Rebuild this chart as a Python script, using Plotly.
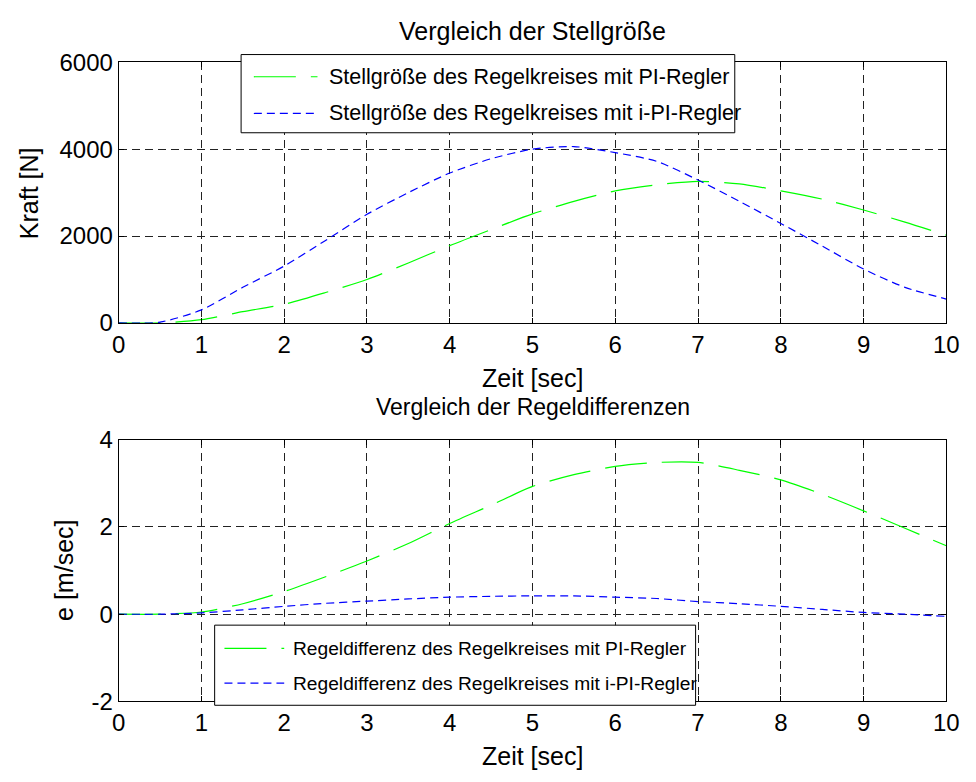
import plotly.graph_objects as go

# Zeitachse [sec]
zeit = [0, 0.5, 1, 1.5, 2, 2.5, 3, 3.5, 4, 4.5, 5, 5.5, 6, 6.5, 7, 7.5, 8, 8.5, 9, 9.5, 10]

# Stellgröße [N]
stell_pi = [0, 0, 75, 260, 430, 700, 1000, 1380, 1780, 2150, 2510, 2800, 3040, 3180,
            3260, 3200, 3040, 2850, 2600, 2320, 2020]
stell_ipi = [0, 20, 300, 820, 1310, 1900, 2500, 3000, 3450, 3780, 4000, 4060, 3920, 3720,
             3290, 2800, 2290, 1770, 1240, 820, 550]

# Regeldifferenz [m/sec]
diff_pi = [0, 0, 0.05, 0.24, 0.52, 0.86, 1.22, 1.62, 2.08, 2.5, 2.93, 3.2, 3.39, 3.48,
           3.48, 3.3, 3.08, 2.75, 2.37, 1.97, 1.57]
diff_ipi = [0, 0, 0.03, 0.1, 0.18, 0.25, 0.3, 0.35, 0.39, 0.41, 0.42, 0.42, 0.39, 0.36,
            0.29, 0.24, 0.18, 0.11, 0.04, 0.0, -0.05]

x_ticks = list(range(0, 11))
y1_ticks = [0, 2000, 4000, 6000]
y2_ticks = [-2, 0, 2, 4]
y2_labels = ["-2", "0", "2", "4"]

name_pi_1 = "Stellgröße des Regelkreises mit PI-Regler"
name_ipi_1 = "Stellgröße des Regelkreises mit i-PI-Regler"
name_pi_2 = "Regeldifferenz des Regelkreises mit PI-Regler"
name_ipi_2 = "Regeldifferenz des Regelkreises mit i-PI-Regler"

W, H = 976, 782
FONT = "Liberation Sans, Arial, sans-serif"
GREEN = "#00ff00"
BLUE = "#0000ff"
DASH_PI = "42px,15px"
DASH_IPI = "8px,5px"


def px(x):
    return x / W


def py(y):
    return 1 - y / H


fig = go.Figure()
fig.add_trace(go.Scatter(x=zeit, y=stell_pi, name=name_pi_1, mode="lines",
                         line=dict(color=GREEN, width=1.2, dash=DASH_PI, shape="spline",
                                   smoothing=0.7),
                         xaxis="x", yaxis="y", showlegend=False))
fig.add_trace(go.Scatter(x=zeit, y=stell_ipi, name=name_ipi_1, mode="lines",
                         line=dict(color=BLUE, width=1.2, dash=DASH_IPI, shape="spline",
                                   smoothing=0.7),
                         xaxis="x", yaxis="y", showlegend=False))
fig.add_trace(go.Scatter(x=zeit, y=diff_pi, name=name_pi_2, mode="lines",
                         line=dict(color=GREEN, width=1.2, dash=DASH_PI, shape="spline",
                                   smoothing=0.7),
                         xaxis="x2", yaxis="y2", showlegend=False))
fig.add_trace(go.Scatter(x=zeit, y=diff_ipi, name=name_ipi_2, mode="lines",
                         line=dict(color=BLUE, width=1.2, dash=DASH_IPI, shape="spline",
                                   smoothing=0.7),
                         xaxis="x2", yaxis="y2", showlegend=False))

axis_common = dict(
    showline=True, linecolor="black", linewidth=1, mirror="ticks",
    ticks="inside", ticklen=5, tickcolor="black", tickwidth=1,
    showgrid=True, gridcolor="#222222", gridwidth=1, griddash="8px,5px",
    zeroline=False, tickfont=dict(family=FONT, size=24, color="black"),
)

xdom = [px(114), px(959)]
fig.update_layout(
    width=W, height=H,
    margin=dict(l=0, r=0, t=0, b=0),
    paper_bgcolor="white", plot_bgcolor="white",
    font=dict(family=FONT, color="black"),
    xaxis=dict(domain=xdom, range=[0, 10], tickvals=x_ticks, anchor="y", **axis_common),
    yaxis=dict(domain=[py(320), py(50)], range=[0, 6000], tickvals=y1_ticks, anchor="x",
               **axis_common),
    xaxis2=dict(domain=xdom, range=[0, 10], tickvals=x_ticks, anchor="y2", **axis_common),
    yaxis2=dict(domain=[py(712), py(441)], range=[-2, 4], tickvals=y2_ticks,
                ticktext=y2_labels, anchor="x2", **axis_common),
)

# Titel und Achsenbeschriftungen
texts = [
    ("Vergleich der Stellgröße", 536.5, 18, 25, 0),
    ("Zeit [sec]", 536.5, 377, 25, 0),
    ("Vergleich der Regeldifferenzen", 536.5, 407, 23, 0),
    ("Zeit [sec]", 536.5, 769, 25, 0),
    ("Kraft [N]", 22, 186, 25, -90),
    ("e [m/sec]", 58, 576, 25, -90),
]
for txt, x, y, size, angle in texts:
    fig.add_annotation(text=txt, x=px(x), y=py(y), xref="paper", yref="paper",
                       xanchor="center", yanchor="middle", showarrow=False,
                       textangle=angle, font=dict(family=FONT, size=size, color="black"))

# Legenden als Kasten mit Linienmustern und Beschriftung
legends = [
    dict(box=(239, 42, 743, 123), line_x=(252, 317), text_x=327, rows=(65, 103),
         names=(name_pi_1, name_ipi_1), size=21.5),
    dict(box=(212, 633, 703, 716), line_x=(222, 283), text_x=290, rows=(657, 693),
         names=(name_pi_2, name_ipi_2), size=19.2),
]
for lg in legends:
    x0, y0, x1, y1 = lg["box"]
    fig.add_shape(type="rect", xref="paper", yref="paper",
                  x0=px(x0), x1=px(x1), y0=py(y1), y1=py(y0),
                  line=dict(color="black", width=1), fillcolor="white", layer="above")
    styles = [(GREEN, DASH_PI), (BLUE, DASH_IPI)]
    for (color, dash), row, name in zip(styles, lg["rows"], lg["names"]):
        fig.add_shape(type="line", xref="paper", yref="paper",
                      x0=px(lg["line_x"][0]), x1=px(lg["line_x"][1]), y0=py(row), y1=py(row),
                      line=dict(color=color, width=1.2, dash=dash), layer="above")
        fig.add_annotation(text=name, x=px(lg["text_x"]), y=py(row), xref="paper", yref="paper",
                           xanchor="left", yanchor="middle", showarrow=False,
                           font=dict(family=FONT, size=lg["size"], color="black"))

fig.write_html("out.html")
